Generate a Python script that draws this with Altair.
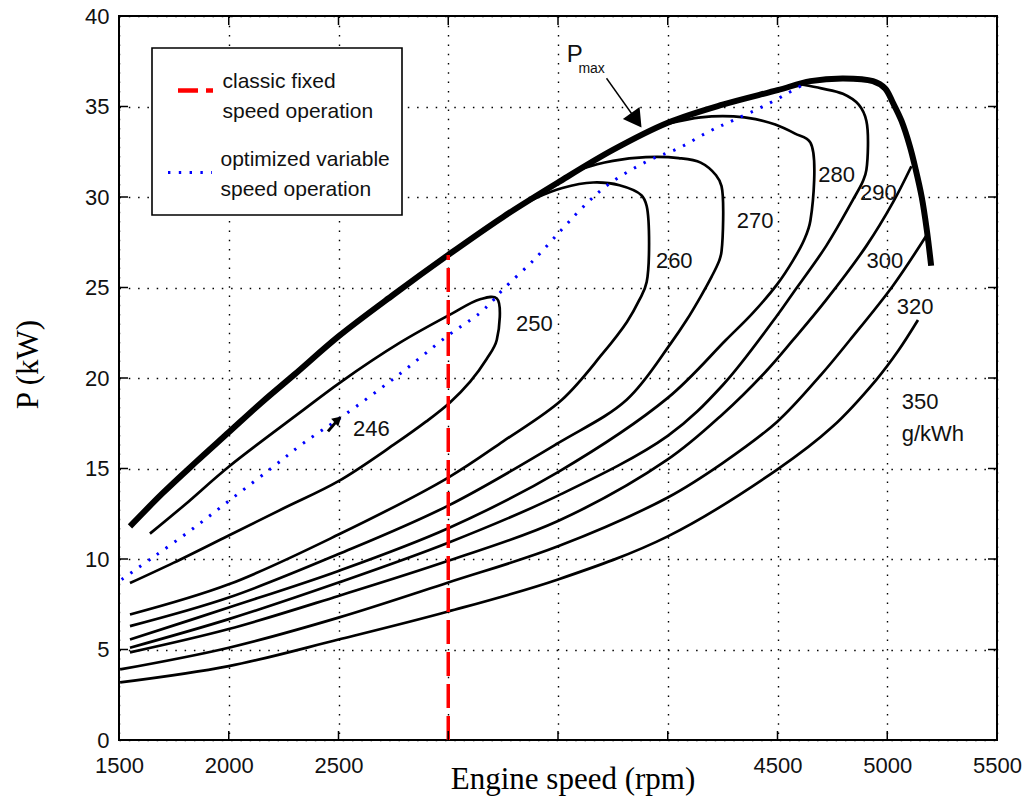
import altair as alt
import pandas as pd

# ---------------- data ----------------
rpm_ticks = [1500, 2000, 2500, 3000, 3500, 4000, 4500, 5000, 5500]
p_ticks = [0, 5, 10, 15, 20, 25, 30, 35, 40]
hidden_rpm_labels = [3000, 3500, 4000]

pmax_rpm = [1550, 1700, 1850, 2000, 2150, 2300, 2500, 2750, 3000, 3250, 3500, 3750, 4000,
            4250, 4500, 4650, 4800, 4935, 4990, 5026, 5065, 5103, 5130, 5157, 5180, 5200]
pmax_p = [11.8, 13.65, 15.35, 17.0, 18.65, 20.2, 22.3, 24.6, 26.8, 28.9, 30.8, 32.6, 34.1,
          35.1, 35.9, 36.4, 36.55, 36.4, 36.0, 35.2, 34.2, 32.8, 31.5, 30.0, 28.2, 26.2]

c250_rpm = [1550, 1750, 2000, 2250, 2500, 2750, 2900, 3008, 3100, 3175, 3221,
            3221, 3145, 3008, 2780, 2507, 2325, 2000, 1800, 1641]
c250_p = [8.67, 9.8, 11.3, 12.8, 14.3, 16.3, 17.6, 18.65, 19.8, 21.05, 22.1,
          24.4, 24.35, 23.5, 21.95, 19.75, 18.1, 15.1, 13.0, 11.4]

c260_rpm = [1550, 2000, 2500, 3000, 3250, 3518, 3700, 3814, 3870, 3904,
            3904, 3880, 3780, 3660, 3520, 3400, 3300]
c260_p = [6.93, 8.6, 11.35, 14.5, 16.5, 18.8, 21.3, 23.1, 24.3, 25.3,
          29.5, 30.1, 30.65, 30.8, 30.5, 29.95, 29.3]

c270_rpm = [1550, 2000, 2500, 3000, 3500, 3813, 4013, 4086, 4150, 4200, 4235, 4245,
            4245, 4220, 4150, 4050, 3900, 3750, 3620, 3560]
c270_p = [6.29, 7.87, 10.27, 12.95, 16.4, 18.8, 21.9, 23.2, 24.5, 25.6, 26.5, 27.0,
          30.6, 31.2, 31.9, 32.15, 32.2, 32.0, 31.6, 31.25]

c280_rpm = [1550, 2000, 2500, 3000, 3500, 4000, 4265, 4388, 4500, 4571, 4620, 4650,
            4650, 4580, 4490, 4400, 4300, 4150, 4000]
c280_p = [5.55, 7.32, 9.34, 11.7, 14.8, 18.9, 22.1, 23.6, 25.2, 26.5, 27.6, 28.7,
          33.0, 33.5, 34.0, 34.3, 34.45, 34.4, 34.05]

c290_rpm = [1550, 2000, 2500, 3000, 3500, 4000, 4250, 4495, 4571, 4722, 4844, 4890, 4905,
            4905, 4870, 4798, 4700, 4616]
c290_p = [5.1, 6.68, 8.7, 10.9, 13.5, 16.8, 19.6, 23.4, 24.7, 27.3, 29.85, 30.9, 31.5,
          34.2, 35.1, 35.7, 36.0, 36.2]

c300_rpm = [1550, 2000, 2500, 3000, 3500, 4000, 4250, 4450, 4571, 4721, 4905, 5026, 5110]
c300_p = [4.84, 6.13, 7.96, 9.9, 12.1, 15.5, 18.0, 20.4, 22.1, 24.3, 27.3, 29.7, 31.7]

c320_rpm = [1505, 2000, 2500, 3000, 3500, 4000, 4250, 4500, 4700, 4830, 5026, 5180]
c320_p = [3.9, 5.1, 6.76, 8.7, 10.7, 13.4, 15.3, 17.6, 20.2, 22.1, 25.1, 27.9]

c350_rpm = [1505, 2000, 2500, 3000, 3500, 4000, 4500, 4750, 4950, 5050, 5140]
c350_p = [3.18, 4.08, 5.55, 7.1, 8.87, 11.25, 14.95, 17.3, 19.9, 21.5, 23.2]

opt_rpm = [1512, 1656, 1839, 2021, 2203, 2340, 2520, 2766, 2994, 3145, 3205, 3250, 3388,
           3517, 3610, 3730, 3910, 4050, 4185, 4300, 4450, 4615]
opt_p = [8.87, 10.1, 11.7, 13.4, 15.1, 16.4, 17.9, 20.1, 22.3, 23.6, 24.3, 24.9, 26.5,
         28.2, 29.4, 30.7, 32.0, 32.7, 33.6, 34.25, 35.1, 36.2]

fixed_rpm = [3000]
fixed_p_low = [0]
fixed_p_high = [26.8]

label_text = ["250", "260", "270", "280", "290", "300", "320", "350", "g/kWh", "246"]
label_rpm = [3309, 3946, 4314, 4686, 4876, 4906, 5043, 5066, 5066, 2566]
label_p = [22.62, 26.05, 28.29, 30.84, 29.82, 26.05, 23.56, 18.31, 16.52, 16.82]

pmax_label = ["P"]
pmax_label_rpm = [3540]
pmax_label_p = [37.48]
pmax_sub = ["max"]
pmax_sub_rpm = [3593]
pmax_sub_p = [36.83]

arrow_rpm = [3721, 3857]
arrow_p = [36.56, 34.24]

m246_rpm = [2452, 2498]
m246_p = [17.05, 17.7]

legend_lines = ["classic fixed", "speed operation", "optimized variable", "speed operation"]

# ---------------- frames ----------------
def curve_frame(name, rpm, p):
    return pd.DataFrame({"curve": name, "i": list(range(len(rpm))), "rpm": rpm, "P": p})

contours = pd.concat([
    curve_frame("250", c250_rpm, c250_p),
    curve_frame("260", c260_rpm, c260_p),
    curve_frame("270", c270_rpm, c270_p),
    curve_frame("280", c280_rpm, c280_p),
    curve_frame("290", c290_rpm, c290_p),
    curve_frame("300", c300_rpm, c300_p),
    curve_frame("320", c320_rpm, c320_p),
    curve_frame("350", c350_rpm, c350_p),
], ignore_index=True)
pmax_df = curve_frame("pmax", pmax_rpm, pmax_p)
opt_df = curve_frame("opt", opt_rpm, opt_p)
fixed_df = pd.DataFrame({"rpm": fixed_rpm, "P": fixed_p_low, "P2": fixed_p_high})
labels_df = pd.DataFrame({"t": label_text, "rpm": label_rpm, "P": label_p})
pl_df = pd.DataFrame({"t": pmax_label, "rpm": pmax_label_rpm, "P": pmax_label_p})
ps_df = pd.DataFrame({"t": pmax_sub, "rpm": pmax_sub_rpm, "P": pmax_sub_p})
arrow_df = curve_frame("arrow", arrow_rpm, arrow_p)
head_df = pd.DataFrame({"rpm": [arrow_rpm[-1]], "P": [arrow_p[-1]]})
m246_df = curve_frame("m246", m246_rpm, m246_p)
m246_head = pd.DataFrame({"rpm": [m246_rpm[-1]], "P": [m246_p[-1]]})
xt_df = pd.DataFrame({"rpm": rpm_ticks})
yt_df = pd.DataFrame({"P": p_ticks})
one = pd.DataFrame({"k": [0]})

# ---------------- chart ----------------
W, H = 878, 724
SANS = "Liberation Sans, Arial, Helvetica, sans-serif"
SERIF = "Liberation Serif, Times New Roman, serif"

xs = alt.Scale(domain=[1500, 5500], nice=False, zero=False)
ys = alt.Scale(domain=[0, 40], nice=False, zero=False)

hidden = "[" + ",".join(str(v) for v in hidden_rpm_labels) + "]"
x_axis = alt.Axis(
    values=rpm_ticks, format="d",
    labelExpr=f"indexof({hidden}, datum.value) >= 0 ? '' : datum.label",
    title="Engine speed (rpm)", titleFont=SERIF, titleFontSize=31, titleFontWeight="normal",
    titleColor="black", titleX=453.5, titleY=48, titleAlign="center", titleBaseline="alphabetic",
    labelFont=SANS, labelFontSize=22, labelColor="#111", labelPadding=15,
    labelFlush=False, labelOverlap=False, labelBaseline="top",
    ticks=False, tickSize=0, domain=False,
    grid=True, gridColor="black", gridDash=[1.5, 7.8], gridWidth=1.4, gridOpacity=1, zindex=0,
)
y_axis = alt.Axis(
    values=p_ticks, format="d",
    title="P (kW)", titleFont=SERIF, titleFontSize=31, titleFontWeight="normal",
    titleColor="black", titleAngle=270, titleX=-82, titleY=348, titleAlign="center",
    titleBaseline="alphabetic",
    labelFont=SANS, labelFontSize=22, labelColor="#111", labelPadding=10,
    labelFlush=False, labelOverlap=False,
    ticks=False, tickSize=0, domain=False,
    grid=True, gridColor="black", gridDash=[1.5, 7.8], gridWidth=1.4, gridOpacity=1, zindex=0,
)

def X():
    return alt.X("rpm:Q", scale=xs, axis=x_axis)

def Y():
    return alt.Y("P:Q", scale=ys, axis=y_axis)

contour_layer = alt.Chart(contours).mark_line(
    color="black", strokeWidth=2.7, strokeJoin="round", interpolate="catmull-rom").encode(
    x=X(), y=Y(), detail="curve:N", order=alt.Order("i:Q"))

pmax_layer = alt.Chart(pmax_df).mark_line(
    color="black", strokeWidth=6, strokeJoin="round", interpolate="catmull-rom").encode(
    x=X(), y=Y(), order=alt.Order("i:Q"))

opt_layer = alt.Chart(opt_df).mark_line(
    color="#0000FF", strokeWidth=3, strokeDash=[2.4, 8.4], interpolate="catmull-rom").encode(
    x=X(), y=Y(), order=alt.Order("i:Q"))

fixed_layer = alt.Chart(fixed_df).mark_rule(color="#FF0000", strokeWidth=3.5, strokeDash=[24, 8]).encode(
    x=X(), y=Y(), y2="P2:Q")

bt = alt.Chart(xt_df).mark_rule(color="black", strokeWidth=1.5).encode(
    x=X(), y=alt.value(H), y2=alt.value(H - 9))
tt = alt.Chart(xt_df).mark_rule(color="black", strokeWidth=1.5).encode(
    x=X(), y=alt.value(0), y2=alt.value(9))
lt = alt.Chart(yt_df).mark_rule(color="black", strokeWidth=1.5).encode(
    y=Y(), x=alt.value(0), x2=alt.value(9))
rt = alt.Chart(yt_df).mark_rule(color="black", strokeWidth=1.5).encode(
    y=Y(), x=alt.value(W), x2=alt.value(W - 9))

labels_layer = alt.Chart(labels_df).mark_text(
    align="left", baseline="alphabetic", font=SANS, fontSize=22, color="#111").encode(
    x=X(), y=Y(), text="t:N")
pl_layer = alt.Chart(pl_df).mark_text(
    align="left", baseline="alphabetic", font=SANS, fontSize=24, color="#111").encode(
    x=X(), y=Y(), text="t:N")
ps_layer = alt.Chart(ps_df).mark_text(
    align="left", baseline="alphabetic", font=SANS, fontSize=14, color="#111").encode(
    x=X(), y=Y(), text="t:N")

arrow_line = alt.Chart(arrow_df).mark_line(color="black", strokeWidth=1.4).encode(
    x=X(), y=Y(), order=alt.Order("i:Q"))
arrow_head = alt.Chart(head_df).mark_point(
    shape="triangle-up", filled=True, color="black", size=420, angle=144.7, opacity=1).encode(
    x=X(), y=Y())

m246_line = alt.Chart(m246_df).mark_line(color="black", strokeWidth=3).encode(
    x=X(), y=Y(), order=alt.Order("i:Q"))
m246_tri = alt.Chart(m246_head).mark_point(
    shape="triangle-up", filled=True, color="black", size=110, angle=48, opacity=1).encode(
    x=X(), y=Y())

leg_box = alt.Chart(one).mark_rect(fill="white", stroke="black", strokeWidth=1.6).encode(
    x=alt.value(33), x2=alt.value(283), y=alt.value(32), y2=alt.value(199))
leg_red = alt.Chart(one).mark_rule(color="#FF0000", strokeWidth=4.5, strokeDash=[20, 8]).encode(
    x=alt.value(59), x2=alt.value(94), y=alt.value(74.5))
leg_blue = alt.Chart(one).mark_rule(color="#0000FF", strokeWidth=3, strokeDash=[2.4, 8.4]).encode(
    x=alt.value(49), x2=alt.value(93), y=alt.value(156.5))

def leg_text(txt, x, y):
    return alt.Chart(one).mark_text(
        align="left", baseline="alphabetic", font=SANS, fontSize=21, color="#111").encode(
        x=alt.value(x), y=alt.value(y), text=alt.value(txt))

leg_texts = [
    leg_text(legend_lines[0], 103.5, 72.3),
    leg_text(legend_lines[1], 103.5, 102.3),
    leg_text(legend_lines[2], 101.5, 149.7),
    leg_text(legend_lines[3], 101.5, 179.7),
]

chart = alt.layer(
    contour_layer, pmax_layer, opt_layer, fixed_layer,
    bt, tt, lt, rt,
    labels_layer, pl_layer, ps_layer,
    arrow_line, arrow_head, m246_line, m246_tri,
    leg_box, leg_red, leg_blue, *leg_texts,
).properties(
    width=W, height=H,
    autosize=alt.AutoSizeParams(type="none"),
    padding={"left": 119, "top": 16, "right": 37, "bottom": 56},
    background="white",
).configure_view(stroke="black", strokeWidth=2)

chart.save("out.html", embed_options={"renderer": "svg", "actions": False})
